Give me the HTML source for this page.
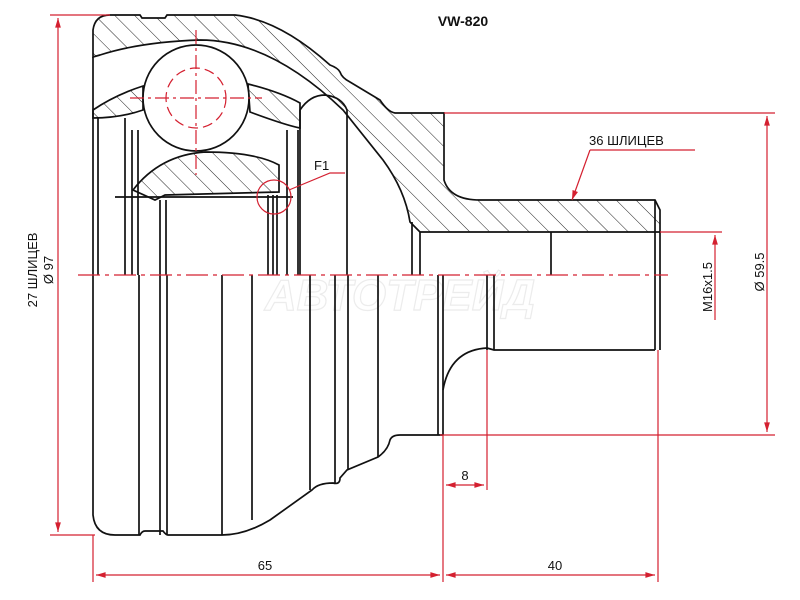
<!DOCTYPE html>
<html><head><meta charset="utf-8"><style>body{margin:0;background:#fff}svg{display:block}</style></head><body>
<svg width="800" height="600" viewBox="0 0 800 600" xmlns="http://www.w3.org/2000/svg" font-family="Liberation Sans, sans-serif">
<defs>
<pattern id="h" patternUnits="userSpaceOnUse" width="14" height="14" patternTransform="rotate(-45)"><line x1="0" y1="0" x2="0" y2="14" stroke="#222" stroke-width="1"/></pattern>
<marker id="a" viewBox="0 0 10 10" refX="10" refY="5" markerWidth="10" markerHeight="8" orient="auto-start-reverse"><path d="M0,2 L10,5 L0,8 z" fill="#d42030"/></marker>
</defs>
<text x="400" y="310" font-size="44" font-style="italic" font-weight="bold" fill="none" stroke="#ececec" stroke-width="1.2" text-anchor="middle">АВТОТРЕЙД</text>
<g fill="none" stroke="#111" stroke-width="1.7">
<path d="M93,30 Q95,15 110,15 L140,15 L142,18 L165,18 L167,15 L235,15 Q280,20 330,65 Q338,68 340,72 Q342,78 350,82 L380,100 Q388,112 395,113 L444,113 L444,180 Q450,200 480,200 L655,200 L660,210 L660,232 L420,232 L410,222 Q405,190 383,160 L343,110 Q270,40 200,40 Q140,42 100,55 L93,57 Z" fill="url(#h)"/>
<path d="M93,110 Q115,95 143,86 L143,110 Q120,118 93,118 Z" fill="url(#h)"/>
<path d="M248,84 Q280,92 300,103 L300,128 Q285,125 250,112 Z" fill="url(#h)"/>
<circle cx="196" cy="98" r="53" fill="#fff"/>
<path d="M133,190 Q160,155 205,152 Q255,152 279,165 L279,192 L165,195 L155,200 Z" fill="url(#h)"/>
<line x1="115" y1="197" x2="293" y2="197"/>
<path d="M300,275 L300,110 Q310,95 325,95 Q342,97 347,110 L347,275"/>
<path d="M93,57 L93,515 Q95,535 115,535 L140,535 Q142,531 145,531 L163,531 Q166,535 168,535 L222,535 Q245,535 270,520 L312,490 Q318,483 333,483 Q340,485 340,478 L347,470 L378,457 Q388,450 390,440 Q392,435 400,435 L443,435"/>
<path d="M98,118 V275 M125,118 V275 M132,130 V275 M138,130 V275 M160,200 V275 M166,200 V275 M268,195 V275 M273,195 V275 M277,195 V275 M287,130 V275 M298,130 V275 M412,222 V275 M420,232 V275 M551,232 V275 M660,232 V350 M655,200 V350"/>
<path d="M139,275 V535 M160,275 V535 M167,275 V535 M222,275 V535 M252,275 V520 M310,275 V490 M335,275 V483 M348,275 V470 M378,275 V457 M438,275 V435 M443,275 V435 M487,275 V350 M494,275 V350"/>
<path d="M443,390 Q450,350 487,348 L494,350 L655,350"/>
</g>
<g stroke="#d42030" stroke-width="1.2" fill="none">
<line x1="78" y1="275" x2="668" y2="275" stroke-dasharray="22,5,4,5"/>
<path d="M196,30 V175 M130,98 H262" stroke-dasharray="14,4,3,4"/>
<circle cx="196" cy="98" r="30" stroke-dasharray="10,5"/>
<circle cx="274" cy="197" r="17"/>
<path d="M289,190 L330,173 H345"/>
<path d="M50,15 H110 M50,535 H95"/>
<line x1="58" y1="18" x2="58" y2="532" marker-start="url(#a)" marker-end="url(#a)"/>
<path d="M444,113 H775 M440,435 H775 M660,232 H722"/>
<line x1="767" y1="116" x2="767" y2="432" marker-start="url(#a)" marker-end="url(#a)"/>
<line x1="715" y1="320" x2="715" y2="235" marker-end="url(#a)"/>
<path d="M93,535 V582 M443,435 V582 M658,350 V582 M487,350 V490"/>
<line x1="96" y1="575" x2="440" y2="575" marker-start="url(#a)" marker-end="url(#a)"/>
<line x1="446" y1="575" x2="655" y2="575" marker-start="url(#a)" marker-end="url(#a)"/>
<line x1="446" y1="485" x2="484" y2="485" marker-start="url(#a)" marker-end="url(#a)"/>
<path d="M590,150 H695"/>
<line x1="590" y1="150" x2="572" y2="200" marker-end="url(#a)"/>
</g>
<g fill="#111" font-size="13">
<text x="463" y="26" font-size="14" font-weight="bold" text-anchor="middle">VW-820</text>
<text x="589" y="145">36 ШЛИЦЕВ</text>
<text x="314" y="170">F1</text>
<text x="265" y="570" text-anchor="middle">65</text>
<text x="555" y="570" text-anchor="middle">40</text>
<text x="465" y="480" text-anchor="middle">8</text>
<text transform="translate(712,287) rotate(-90)" text-anchor="middle">M16x1.5</text>
<text transform="translate(764,272) rotate(-90)" text-anchor="middle">Ø 59.5</text>
<text transform="translate(37,270) rotate(-90)" text-anchor="middle">27 ШЛИЦЕВ</text>
<text transform="translate(53,270) rotate(-90)" text-anchor="middle">Ø 97</text>
</g>
</svg>
</body></html>
